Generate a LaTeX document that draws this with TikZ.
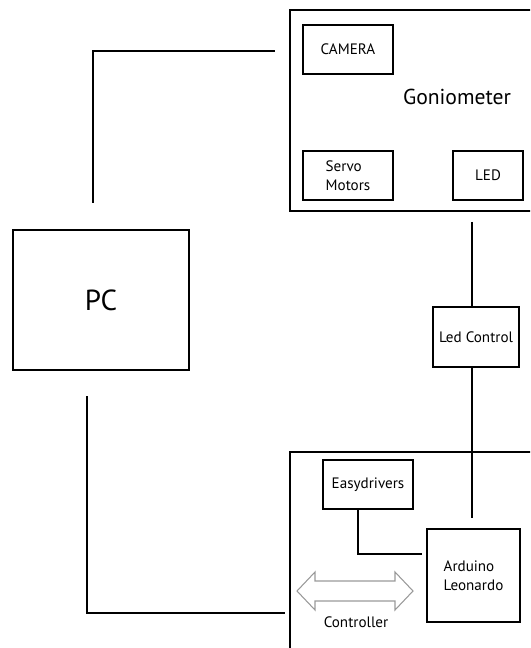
\documentclass[tikz,border=0pt]{standalone}
\usepackage{fontspec}
\setmainfont{PT Sans}
\usepackage{tikz}

\begin{document}
\begin{tikzpicture}[x=0.02cm,y=-0.02cm,
    box/.style={draw,line width=0.7pt,inner sep=0pt,align=center,font=\fontsize{8.6}{11}\selectfont},
    wire/.style={line width=0.7pt}]
    \useasboundingbox (0,0) rectangle (530,648);
    \clip (0,0) rectangle (530,648);

    % outer boxes, cut by the page edge
    \node[box,minimum width=5.4cm,minimum height=4.02cm] (gonio) at (425,110.5) {};
    \node[box,minimum width=5.4cm,minimum height=4.56cm] (ctrl) at (425,566) {};
    \node[font=\fontsize{12.3}{15}\selectfont] (goniotext) at (457,97) {Goniometer};

    \node[box,minimum width=1.8cm,minimum height=0.98cm] (cam) at (348,49.5) {CAMERA};
    \node[box,align=left,minimum width=1.8cm,minimum height=0.98cm] (servo) at (348,175.5) {Servo\\Motors};
    \node[box,minimum width=1.4cm,minimum height=0.98cm] (led) at (488,175.5) {LED};
    \node[box,minimum width=1.72cm,minimum height=1.2cm] (ledctl) at (476,337) {Led Control};
    \node[box,minimum width=3.52cm,minimum height=2.8cm,font=\fontsize{16.5}{19}\selectfont] (pc) at (101,300) {PC};
    \node[box,minimum width=1.8cm,minimum height=0.98cm] (easy) at (368,484.5) {Easydrivers};
    \node[box,align=left,minimum width=1.86cm,minimum height=1.86cm] (ard) at (473.5,575.5) {Arduino\\Leonardo};

    % hollow double arrow
    \draw[gray!80,line width=0.6pt,line join=miter]
        (297,591) -- (315,572) -- (315,581) -- (395,581) -- (395,572) -- (413,591)
        -- (395,610) -- (395,601) -- (315,601) -- (315,610) -- cycle;
    \node[font=\fontsize{8.6}{11}\selectfont] (ctrltext) at (356,622) {Controller};

    % loose wire ends
    \coordinate (pcup) at (93,203);
    \coordinate (gonin) at (275,51);
    \coordinate (pcdown) at (87,396);
    \coordinate (ctrlin) at (285,613);
    \coordinate (ledtop) at (472,222);
    \coordinate (ardtop) at (472,518);
    \coordinate (ezbend) at (358,554);
    \coordinate (ardin) at (422,554);

    \draw[wire] (pcup) |- (gonin);
    \draw[wire] (pcdown) |- (ctrlin);
    \draw[wire] (ledtop) -- (ledtop |- ledctl.north);
    \draw[wire] (ledctl.south -| ardtop) -- (ardtop);
    \draw[wire] (easy.south -| ezbend) -- (ezbend) -- (ardin);
\end{tikzpicture}
\end{document}
